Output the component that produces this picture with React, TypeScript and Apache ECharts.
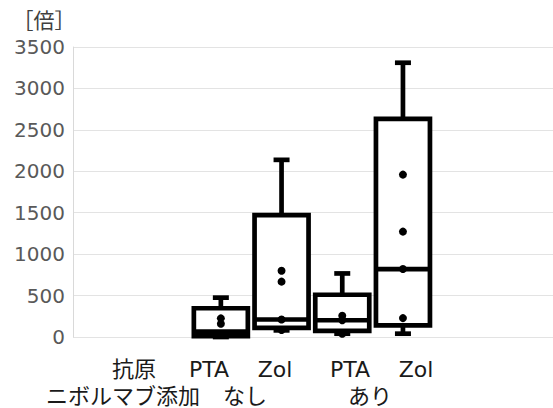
import React, { useEffect, useRef } from "react";
import * as echarts from "echarts";

// Box statistics per group: [min, Q1, median, Q3, max]
const groups = ["PTA なし", "Zol なし", "PTA あり", "Zol あり"];
const boxMin = [0, 80, 40, 40];
const boxQ1 = [10, 109, 75, 140];
const boxMedian = [65, 211, 202, 820];
const boxQ3 = [347, 1470, 510, 2632];
const boxMax = [475, 2138, 767, 3310];

// Individual points shown inside the boxes
const pointsPTA1 = [225, 160];
const pointsZol1 = [800, 668, 211, 85];
const pointsPTA2 = [257, 202, 40];
const pointsZol2 = [1960, 1272, 820, 228];

const yTicks = [0, 500, 1000, 1500, 2000, 2500, 3000, 3500];
const unitLabel = "［倍］";
const row1Labels = ["抗原", "PTA", "Zol", "PTA", "Zol"];
const row2Labels = ["ニボルマブ添加", "なし", "あり"];

const FONT = "'DejaVu Sans', 'Noto Sans CJK JP', sans-serif";

export default function App() {
  const ref = useRef<HTMLDivElement>(null);

  useEffect(() => {
    if (!ref.current) return;
    const chart = echarts.init(ref.current, undefined, { renderer: "svg" });

    const boxData = groups.map((_, i) => [i, boxMin[i], boxQ1[i], boxMedian[i], boxQ3[i], boxMax[i]]);
    const allPoints = [pointsPTA1, pointsZol1, pointsPTA2, pointsZol2];
    const scatterData: number[][] = [];
    allPoints.forEach((arr, i) => arr.forEach((v) => scatterData.push([i, v])));

    const row1X = [134, 209, 275, 350, 416];
    const row2X = [123, 245, 370];

    const graphics: any[] = [
      {
        type: "text",
        x: 44,
        y: 21,
        style: { text: unitLabel, font: `21px ${FONT}`, fill: "#404040", align: "center", verticalAlign: "middle" },
      },
    ];
    row1Labels.forEach((t, i) =>
      graphics.push({
        type: "text",
        x: row1X[i],
        y: 369,
        style: { text: t, font: `22px ${FONT}`, fill: "#1a1a1a", align: "center", verticalAlign: "middle" },
      })
    );
    row2Labels.forEach((t, i) =>
      graphics.push({
        type: "text",
        x: row2X[i],
        y: 396,
        style: { text: t, font: `22px ${FONT}`, fill: "#1a1a1a", align: "center", verticalAlign: "middle" },
      })
    );

    chart.setOption({
      animation: false,
      backgroundColor: "#fff",
      grid: [
        { left: 73, right: 0, top: 47, height: 290 },
        { left: 190.5, width: 242.8, top: 47, height: 290 },
      ],
      xAxis: [
        { gridIndex: 0, type: "category", data: [""], show: false },
        { gridIndex: 1, type: "category", data: groups, show: false },
      ],
      yAxis: [
        {
          gridIndex: 0,
          type: "value",
          min: yTicks[0],
          max: yTicks[yTicks.length - 1],
          interval: 500,
          axisLine: { show: true, lineStyle: { color: "#d9d9d9", width: 1 } },
          axisTick: { show: false },
          axisLabel: {
            color: "#595959",
            fontSize: 20,
            fontFamily: FONT,
            margin: 8,
            formatter: (v: number) => String(v),
          },
          splitLine: { lineStyle: { color: "#e3e3e3", width: 1 } },
        },
        { gridIndex: 1, type: "value", min: 0, max: 3500, show: false },
      ],
      series: [
        {
          type: "custom",
          xAxisIndex: 1,
          yAxisIndex: 1,
          data: boxData,
          encode: { x: 0, y: [1, 2, 3, 4, 5] },
          z: 2,
          renderItem: (params: any, api: any) => {
            const idx = api.value(0);
            const vals = [1, 2, 3, 4, 5].map((k) => api.value(k));
            const cx = api.coord([idx, vals[0]])[0];
            const y = vals.map((v: number) => api.coord([idx, v])[1]);
            const bw = 54;
            const cap = 16;
            const lw = 4.7;
            const st = { stroke: "#000", lineWidth: lw, fill: "none" };
            return {
              type: "group",
              children: [
                { type: "line", shape: { x1: cx, y1: y[4], x2: cx, y2: y[3] }, style: st },
                { type: "line", shape: { x1: cx - cap / 2, y1: y[4], x2: cx + cap / 2, y2: y[4] }, style: st },
                { type: "line", shape: { x1: cx, y1: y[1], x2: cx, y2: y[0] }, style: st },
                { type: "line", shape: { x1: cx - cap / 2, y1: y[0], x2: cx + cap / 2, y2: y[0] }, style: st },
                {
                  type: "rect",
                  shape: { x: cx - bw / 2, y: y[3], width: bw, height: y[1] - y[3] },
                  style: { stroke: "#000", lineWidth: lw, fill: "#fff" },
                },
                { type: "line", shape: { x1: cx - bw / 2, y1: y[2], x2: cx + bw / 2, y2: y[2] }, style: st },
              ],
            };
          },
        },
        {
          type: "scatter",
          xAxisIndex: 1,
          yAxisIndex: 1,
          data: scatterData,
          symbol: "circle",
          symbolSize: 8,
          itemStyle: { color: "#000", opacity: 1 },
          z: 3,
        },
      ],
      graphic: graphics,
    });

    return () => chart.dispose();
  }, []);

  return <div ref={ref} style={{ position: "fixed", left: 0, top: 0, width: 553, height: 408 }} />;
}
